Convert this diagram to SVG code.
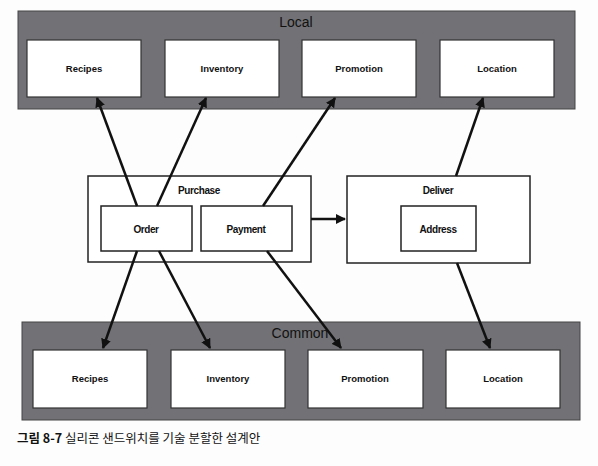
<svg xmlns="http://www.w3.org/2000/svg" width="598" height="466" viewBox="0 0 598 466">
<defs>
<style>
.bg{fill:#fdfdfd}
.layer{fill:#727276;stroke:#444;stroke-width:1}
.lt{font-family:"Liberation Sans",Arial,sans-serif;font-size:14px;fill:#111;text-anchor:middle}
.box{fill:#fff;stroke:#333;stroke-width:1.2}
.bt{font-family:"Liberation Sans",Arial,sans-serif;font-size:9.5px;fill:#111;text-anchor:middle;font-weight:bold}
.mbox{fill:#fff;stroke:#222;stroke-width:1.5}
.mt{font-family:"Liberation Sans",Arial,sans-serif;font-size:10px;fill:#111;text-anchor:middle;font-weight:bold;letter-spacing:-0.4px}
.conn{stroke:#111;stroke-width:2.5;fill:none;marker-end:url(#ah)}
.cap{font-family:"Noto Sans CJK KR","Liberation Sans",sans-serif;font-size:12.5px;fill:#111}
</style>
<marker id="ah" viewBox="0 0 10 10" refX="9" refY="5" markerWidth="4" markerHeight="4" orient="auto" markerUnits="strokeWidth">
<path d="M0,0 L10,5 L0,10 z" fill="#111"/>
</marker>
</defs>
<rect class="bg" x="0" y="0" width="598" height="466"/>
<g id="local">
<rect class="layer" x="18" y="11" width="557" height="98"/>
<text class="lt" x="296" y="27">Local</text>
</g>
<g id="local-recipes"><rect class="box" x="27" y="40" width="114" height="57"/><text class="bt" x="84" y="72">Recipes</text></g>
<g id="local-inventory"><rect class="box" x="165" y="40" width="114" height="57"/><text class="bt" x="222" y="72">Inventory</text></g>
<g id="local-promotion"><rect class="box" x="302" y="40" width="114" height="57"/><text class="bt" x="359" y="72">Promotion</text></g>
<g id="local-location"><rect class="box" x="440" y="40" width="114" height="57"/><text class="bt" x="497" y="72">Location</text></g>
<g id="common">
<rect class="layer" x="22" y="322" width="558" height="98"/>
<text class="lt" x="300" y="338">Common</text>
</g>
<g id="common-recipes"><rect class="box" x="33" y="350" width="114" height="58"/><text class="bt" x="90" y="382">Recipes</text></g>
<g id="common-inventory"><rect class="box" x="171" y="350" width="114" height="58"/><text class="bt" x="228" y="382">Inventory</text></g>
<g id="common-promotion"><rect class="box" x="308" y="350" width="115" height="58"/><text class="bt" x="365" y="382">Promotion</text></g>
<g id="common-location"><rect class="box" x="446" y="350" width="114" height="58"/><text class="bt" x="503" y="382">Location</text></g>
<g id="purchase">
<rect class="mbox" x="88" y="176" width="223" height="86"/>
<text class="mt" x="199" y="194">Purchase</text>
</g>
<g id="order"><rect class="mbox" x="101" y="206" width="91" height="45"/><text class="mt" x="146" y="233">Order</text></g>
<g id="payment"><rect class="mbox" x="201" y="206" width="91" height="45"/><text class="mt" x="246" y="233">Payment</text></g>
<g id="deliver">
<rect class="mbox" x="347" y="176" width="183" height="87"/>
<text class="mt" x="438" y="194">Deliver</text>
</g>
<g id="address"><rect class="mbox" x="401" y="206" width="75" height="45"/><text class="mt" x="438" y="233">Address</text></g>
<g id="connectors">
<line class="conn" x1="137" y1="206" x2="97" y2="98"/>
<line class="conn" x1="157" y1="206" x2="206" y2="98"/>
<line class="conn" x1="263" y1="206" x2="335" y2="98"/>
<line class="conn" x1="456" y1="176" x2="483" y2="98"/>
<line class="conn" x1="311" y1="219" x2="345" y2="219"/>
<line class="conn" x1="137" y1="251" x2="103" y2="348"/>
<line class="conn" x1="159" y1="251" x2="210" y2="348"/>
<line class="conn" x1="267" y1="251" x2="341" y2="348"/>
<line class="conn" x1="457" y1="263" x2="490" y2="348"/>
</g>
<text class="cap" x="17" y="443"><tspan font-weight="bold">그림 8-7</tspan> 실리콘 샌드위치를 기술 분할한 설계안</text>
</svg>
